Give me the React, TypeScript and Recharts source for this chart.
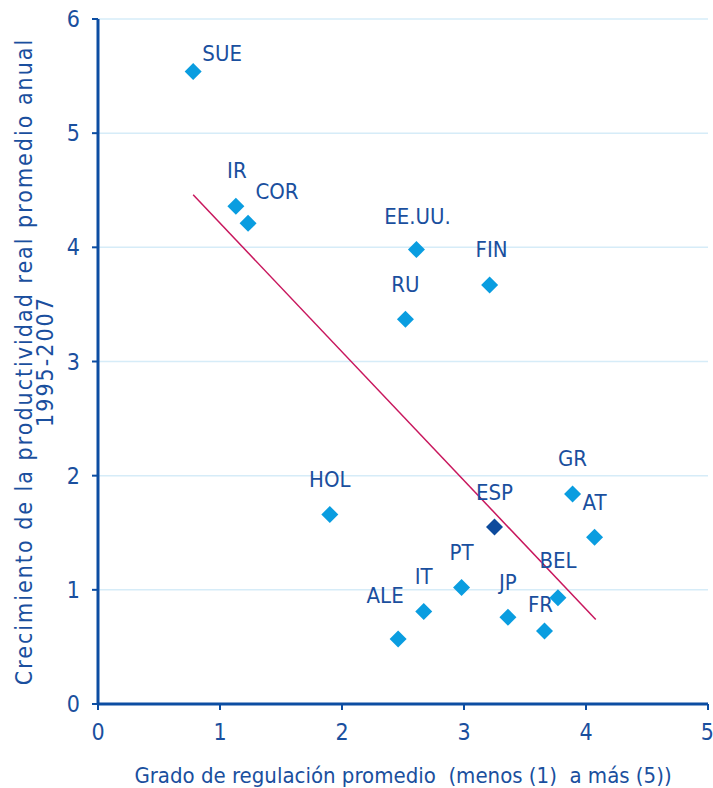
import { ScatterChart, Scatter, XAxis, YAxis, CartesianGrid, ReferenceLine } from "recharts";

const countries = ["SUE", "IR", "COR", "EE.UU.", "FIN", "RU", "HOL", "ESP", "GR", "AT", "PT", "IT", "ALE", "JP", "FR", "BEL"];
const regulation = [0.78, 1.13, 1.23, 2.61, 3.21, 2.52, 1.9, 3.25, 3.89, 4.07, 2.98, 2.67, 2.46, 3.36, 3.66, 3.77];
const productivity = [5.54, 4.36, 4.21, 3.98, 3.67, 3.37, 1.66, 1.55, 1.84, 1.46, 1.02, 0.81, 0.57, 0.76, 0.64, 0.93];
const trendX = [0.78, 4.08];
const trendY = [4.46, 0.74];
const xTicks = [0, 1, 2, 3, 4, 5];
const yTicks = [0, 1, 2, 3, 4, 5, 6];
const highlighted = "ESP";

const FONT = "'DejaVu Sans Condensed', 'Liberation Sans Narrow', 'Open Sans', sans-serif";
const TEXT = "#1a4f9e";
const AXIS = "#0c4da2";
const POINT = "#0a9de0";
const POINT_DARK = "#0d4a9c";

// where each label sits relative to its diamond
const labelOffset: Record<string, [number, number]> = {
  SUE: [29, -18],
  IR: [1, -36],
  COR: [29, -32],
  "EE.UU.": [1, -33],
  FIN: [2, -36],
  ALE: [-13, -43],
  FR: [-4, -26],
  BEL: [0, -37],
};

const data = countries.map((name, i) => ({ name, x: regulation[i], y: productivity[i] }));

const Diamond = (props: any) => {
  const { cx, cy, payload } = props;
  const r = 8.5;
  const [dx, dy] = labelOffset[payload.name] || [0, -35];
  return (
    <g>
      <path
        d={`M${cx},${cy - r} L${cx + r},${cy} L${cx},${cy + r} L${cx - r},${cy} Z`}
        fill={payload.name === highlighted ? POINT_DARK : POINT}
      />
      <text
        x={cx + dx}
        y={cy + dy}
        textAnchor="middle"
        dominantBaseline="central"
        fontFamily={FONT}
        fontSize={22}
        fill={TEXT}
      >
        {payload.name}
      </text>
    </g>
  );
};

const YTitle = (props: any) => {
  const { viewBox } = props;
  const cy = viewBox.y + viewBox.height / 2;
  return (
    <g fontFamily={FONT} fontSize={23} fill={TEXT} letterSpacing={2}>
      <text x={viewBox.x - 14} y={cy} textAnchor="middle" dominantBaseline="central" transform={`rotate(-90, ${viewBox.x - 14}, ${cy})`}>
        Crecimiento de la productividad real promedio anual
      </text>
      <text x={viewBox.x + 7} y={cy} textAnchor="middle" dominantBaseline="central" transform={`rotate(-90, ${viewBox.x + 7}, ${cy})`}>
        1995-2007
      </text>
    </g>
  );
};

const XTitle = (props: any) => {
  const { viewBox } = props;
  return (
    <text
      x={viewBox.x + viewBox.width / 2}
      y={viewBox.y + 71}
      textAnchor="middle"
      dominantBaseline="central"
      fontFamily={FONT}
      fontSize={22}
      fill={TEXT}
      style={{ whiteSpace: "pre" }}
    >
      {"Grado de regulación promedio  (menos (1)  a más (5))"}
    </text>
  );
};

export default function App() {
  return (
    <div style={{ position: "absolute", left: 0, top: 0, background: "#fff" }}>
      <ScatterChart width={713} height={788} margin={{ top: 19, right: 5, bottom: 54, left: 38 }}>
        <CartesianGrid vertical={false} stroke="#d6ecf8" strokeWidth={1.5} />
        <XAxis
          type="number"
          dataKey="x"
          domain={[0, 5]}
          ticks={xTicks}
          height={30}
          axisLine={{ stroke: AXIS, strokeWidth: 3 }}
          tickLine={{ stroke: AXIS, strokeWidth: 2 }}
          tickSize={6}
          tickMargin={14}
          tick={{ fill: TEXT, fontSize: 23, fontFamily: FONT }}
          label={{ content: XTitle }}
        />
        <YAxis
          type="number"
          dataKey="y"
          domain={[0, 6]}
          ticks={yTicks}
          width={60}
          axisLine={{ stroke: AXIS, strokeWidth: 3 }}
          tickLine={{ stroke: AXIS, strokeWidth: 2 }}
          tickSize={6}
          tickMargin={12}
          tick={{ fill: TEXT, fontSize: 23, fontFamily: FONT }}
          label={{ content: YTitle }}
        />
        <ReferenceLine
          segment={[
            { x: trendX[0], y: trendY[0] },
            { x: trendX[1], y: trendY[1] },
          ]}
          stroke="#c8175d"
          strokeWidth={1.5}
        />
        <Scatter data={data} shape={Diamond} isAnimationActive={false} />
      </ScatterChart>
    </div>
  );
}
